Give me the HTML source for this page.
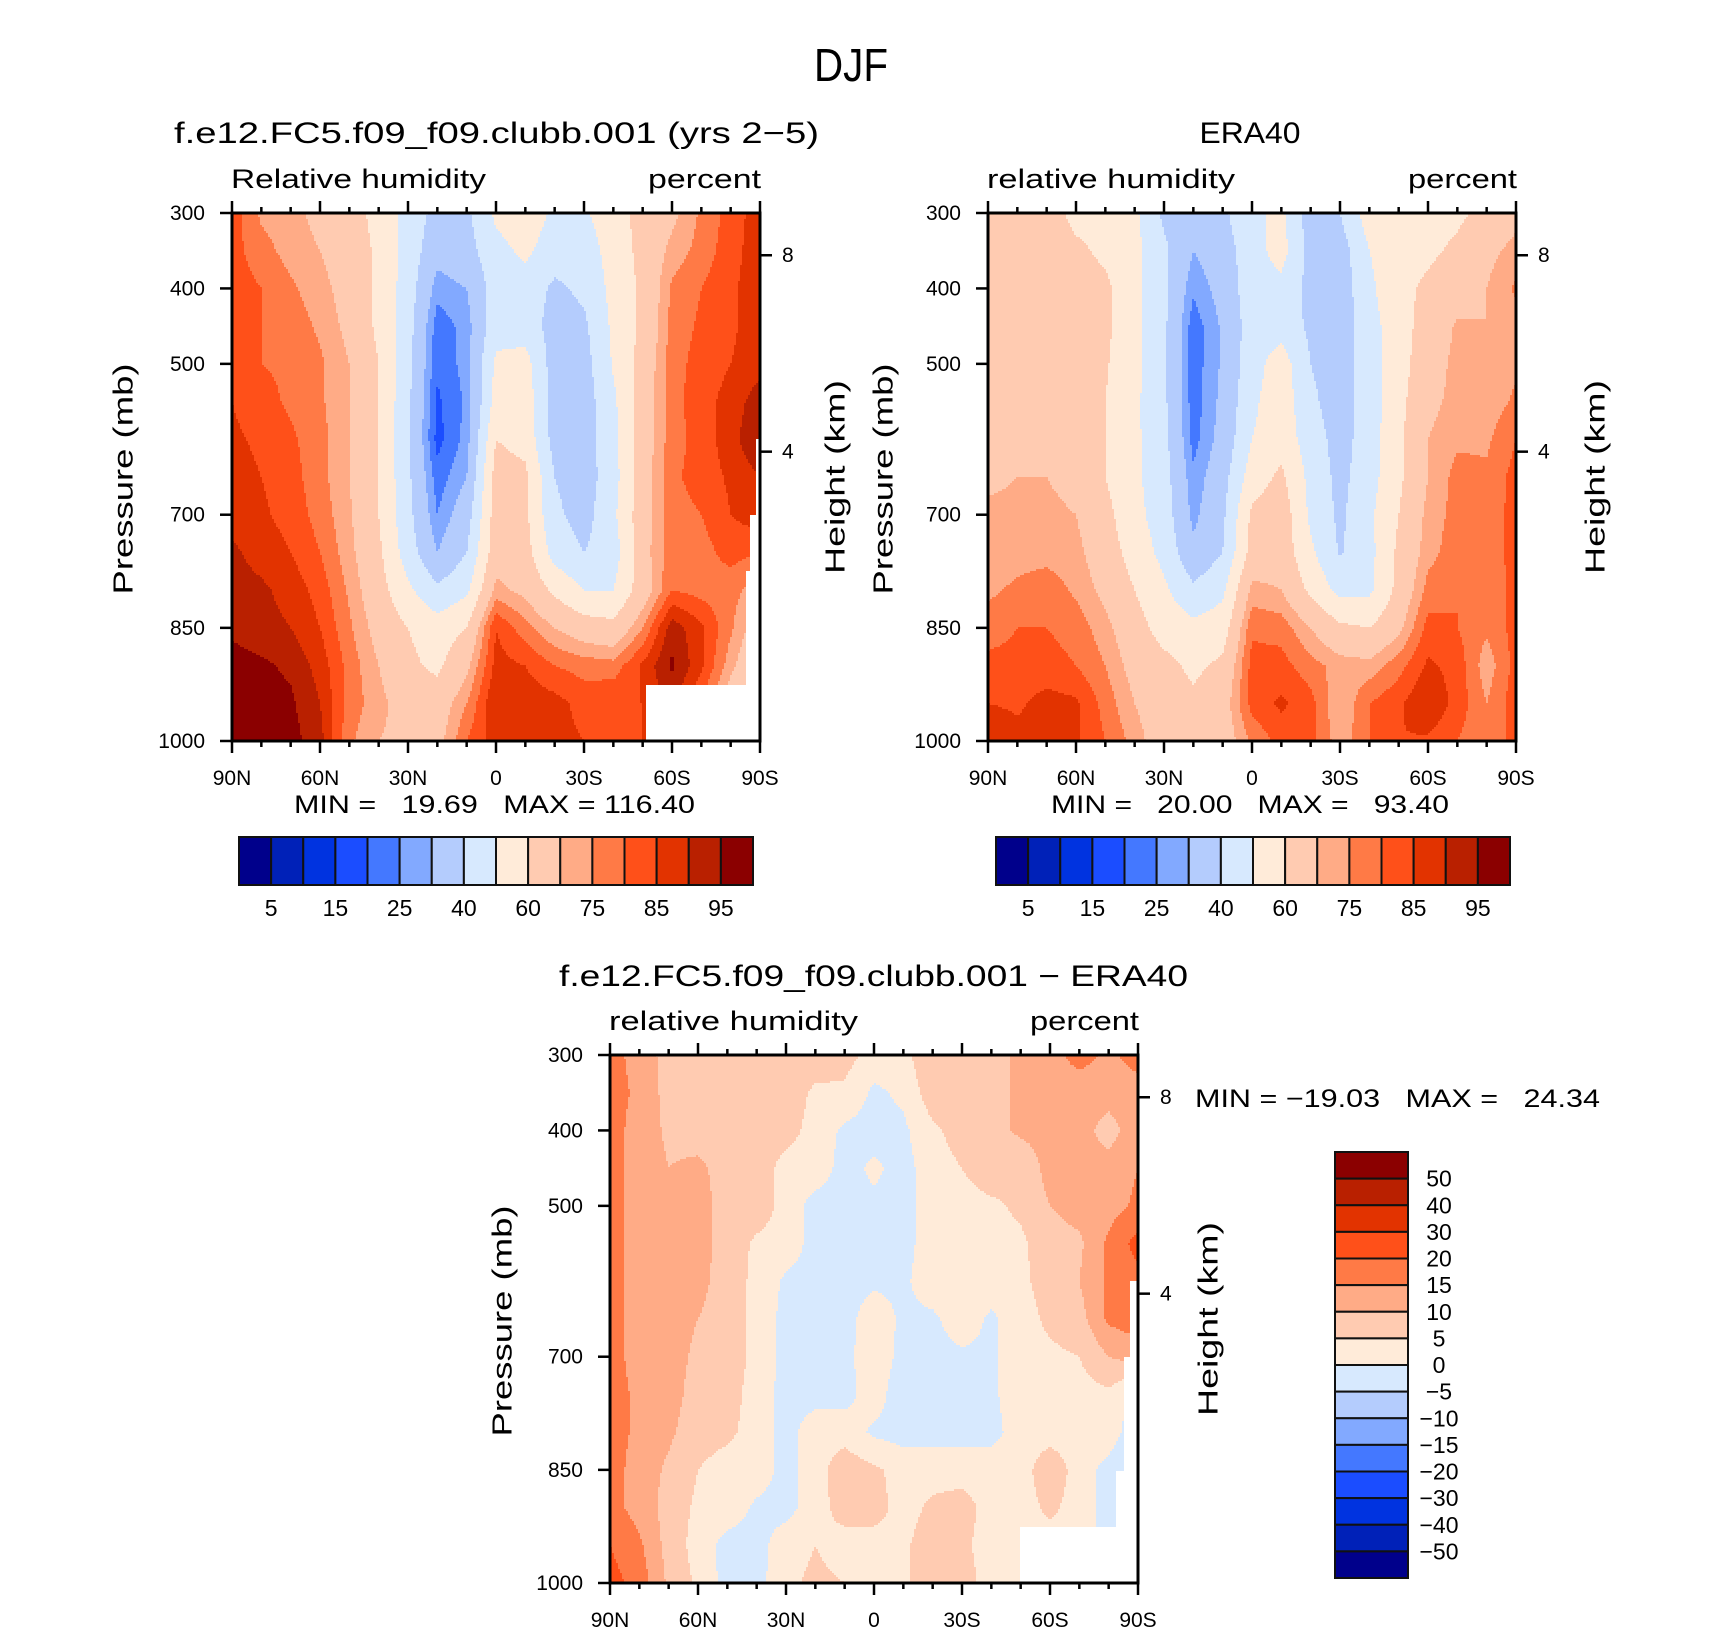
<!DOCTYPE html>
<html><head><meta charset="utf-8"><title>DJF Relative Humidity</title>
<style>
html,body{margin:0;padding:0;background:#fff;}
svg{display:block;font-family:"Liberation Sans",sans-serif;}
svg text{white-space:pre;}
</style></head>
<body>
<svg id="fig" xmlns="http://www.w3.org/2000/svg" width="1710" height="1631" viewBox="0 0 1710 1631">
<rect x="0" y="0" width="1710" height="1631" fill="#fff"/>
</svg>
<script>
// ---------- data ----------
const lats = [90,80,70,60,50,40,30,20,10,0,-10,-20,-30,-40,-50,-60,-70,-80,-90];
const levels = [300,350,400,450,500,550,600,650,700,750,800,850,900,950,1000];

const modelRH = [
[83,74,72,68,64,57,46,37,38,52,56,48,49,55,64,68,76,82,88],
[82,77,73,70,66,58,46,33,36,47,52,45,45,54,63,72,77,83,88],
[83,80,76,72,67,58,45,27,30,45,46,38,42,53,62,76,80,84,88],
[83,80,78,74,68,58,44,22,27,46,45,36,38,52,62,77,81,84,88],
[82,80,79,76,70,60,43,21,27,52,54,35,36,51,64,78,82,85,88],
[85,82,79,76,70,60,42,19,26,54,56,35,35,48,65,78,83,87,93],
[86,84,81,77,70,60,42,18,27,60,57,36,35,47,65,78,82,88,95],
[87,85,82,77,70,60,42,22,30,64,62,40,35,46,66,79,82,86,90],
[88,86,83,78,71,60,43,25,35,65,62,42,36,48,66,78,80,85,88],
[91,88,85,80,72,62,45,30,40,66,64,46,40,45,67,78,78,82,80],
[92,91,88,83,74,64,52,42,48,72,68,58,50,50,65,80,78,77,72],
[94,92,90,85,76,67,60,55,60,85,77,70,65,63,75,93,86,76,65],
[97,96,94,88,78,70,62,58,68,87,85,80,78,77,86,96,86,72,60],
[98,97,96,90,78,72,66,65,75,90,88,87,83,85,85,92,80,65,60],
[98,98,97,92,76,70,68,67,80,88,87,87,85,84,85,90,80,65,60]
];

const eraRH = [
[65,65,65,57,56,52,38,33,38,48,52,35,40,55,57,55,58,63,68],
[65,65,65,62,58,53,42,30,35,46,54,36,35,50,56,58,62,68,72],
[65,65,65,65,62,53,42,26,33,46,47,37,34,48,57,62,66,70,76],
[65,65,65,65,62,53,42,22,31,45,46,38,34,46,56,64,71,70,72],
[65,65,65,65,61,53,42,22,31,46,55,40,35,46,56,66,72,72,74],
[65,65,65,65,60,52,42,22,32,48,56,42,35,45,57,68,72,72,76],
[65,65,67,65,60,52,43,23,33,50,56,45,36,45,58,70,74,74,80],
[68,70,70,67,60,52,44,26,36,55,62,47,37,46,58,70,77,76,82],
[72,72,72,70,63,53,45,28,38,62,66,48,38,48,60,72,77,77,82],
[72,73,73,72,65,56,47,32,40,64,66,52,39,47,62,73,78,77,82],
[74,76,78,74,68,60,52,42,48,72,70,58,47,48,63,77,80,76,82],
[77,80,80,78,72,64,56,53,55,79,78,70,62,60,68,82,80,76,82],
[82,82,82,80,75,67,63,58,62,82,82,77,73,72,78,86,83,72,82],
[85,84,87,86,78,70,64,62,66,82,86,82,70,80,84,90,83,75,83],
[90,87,87,86,80,73,65,63,65,76,82,82,72,80,85,84,80,76,82]
];

const diffRH = [
[17,13,8,8,8,8,8,8,7,3,3,10,9,8,11,13,17,14,17],
[17,14,8,8,8,8,8,4,4,-1,1,8,8,8,11,13,12,12,13],
[17,13,9,8,8,8,7,3,-1,-2,-1,4,7,8,11,12,12,8,13],
[17,13,10,11,8,8,3,3,-2,1,-2,3,5,8,6,12,12,12,15],
[17,13,12,12,8,8,3,-2,-2,-1,-2,3,3,4,6,10,12,13,16],
[17,13,12,12,8,4,3,-2,-2,-1,-2,3,3,3,4,8,9,16,22],
[17,13,12,12,7,4,-1,-2,-2,-1,-1,3,3,3,4,7,10,16,18],
[17,13,12,10,7,4,-2,-2,-2,3,-1,-1,3,-1,3,6,8,16,18],
[17,13,12,9,7,4,-2,-2,-2,4,-2,-2,-1,-1,3,4,5,10,12],
[17,14,12,8,7,3,-2,-2,-2,3,-4,-2,-2,-1,3,3,3,4,-2],
[17,14,11,7,6,3,-2,3,3,-1,-2,-2,-2,-2,3,3,3,3,-4],
[17,13,9,5,3,3,-2,3,8,6,3,3,3,3,3,8,3,-2,-6],
[17,13,8,4,3,-1,-2,3,7,7,3,6,7,3,3,6,3,-2,-4],
[20,16,8,3,-2,-2,3,5,3,3,4,8,6,3,3,3,3,-2,-2],
[22,18,9,4,-2,-2,4,6,5,3,4,9,7,3,3,3,3,-2,-2]
];

const rhBounds = [5,10,15,20,25,30,40,50,60,70,75,80,85,90,95];
const diffBounds = [-50,-40,-30,-20,-15,-10,-5,0,5,10,15,20,30,40,50];
const rhTickLabels = ['5','15','25','40','60','75','85','95'];
const diffTickLabels = ['50','40','30','20','15','10','5','0','\u22125','\u221210','\u221215','\u221220','\u221230','\u221240','\u221250'];
const latTickLabels = ['90N','60N','30N','0','30S','60S','90S'];
const pressureTicks = [300,400,500,700,850,1000];
const heightTicks = [8,4];
const modelMissLat = [-51.4,-88.3,-86.5,-85.5];
const modelMissP = [926,600,700,774];
const diffMissLat = [-49.9,-87.6,-85.1,-82.7];
const diffMissP = [927,600,700,851];

const palette = ['#00008b','#0021b8','#0033e0','#1b4dff','#4478ff','#82a9ff','#b4ccfd','#d7e9fe',
                 '#ffebd9','#ffcbb1','#ffab86','#ff7a46','#ff5019','#e23300','#b92000','#8b0000'];

// ---------- helpers ----------
const NS = 'http://www.w3.org/2000/svg';
const svg = document.getElementById('fig');
function mk(tag, attrs, parent){
  const e = document.createElementNS(NS, tag);
  for (const k in attrs) e.setAttribute(k, attrs[k]);
  (parent || svg).appendChild(e);
  return e;
}
function txt(parent, x, y, s, size, anchor, name, len, rot){
  const t = mk('text', {x:x, y:y, 'font-size':size, 'text-anchor':anchor || 'start', fill:'#000'}, parent);
  if (len) { t.setAttribute('textLength', len); t.setAttribute('lengthAdjust', 'spacingAndGlyphs'); }
  if (rot) { t.setAttribute('transform', 'rotate(-90 ' + x + ' ' + y + ')'); t.setAttribute('dominant-baseline', 'central'); }
  t.textContent = s;
  
  
  return t;
}
function kmToP(h){ return 1013.25 * Math.pow(1 - 2.25577e-5 * h * 1000, 5.25588); }

function classify(v, bounds){ let c = 0; for (let k = 0; k < bounds.length; k++) if (v >= bounds[k]) c = k + 1; return c; }
function sample(data, lat, p){
  let fi = (90 - lat) / 10; fi = Math.max(0, Math.min(18, fi));
  let fj = (p - 300) / 50; fj = Math.max(0, Math.min(14, fj));
  const i0 = Math.min(17, Math.floor(fi)), j0 = Math.min(13, Math.floor(fj));
  const t = fi - i0, u = fj - j0;
  const a = data[j0][i0], b = data[j0][i0+1], c = data[j0+1][i0], d = data[j0+1][i0+1];
  return a*(1-t)*(1-u) + b*t*(1-u) + c*(1-t)*u + d*t*u;
}

function drawPlot(cfg){
  const g = mk('g', {});
  
  
  const L = cfg.x, T = cfg.y, W = 528, H = 528;
  const xOf = lat => L + (90 - lat) / 180 * W;
  const yOf = p => T + (p - 300) / 700 * H;
  const fg = mk('g', {'shape-rendering':'crispEdges'}, g);
  
  
  const step = 2;
  for (let py = 0; py < H; py += step){
    const p = 300 + (py + step/2) / H * 700;
    let runStart = 0, runCls = null;
    for (let px = 0; px <= W; px += step){
      let cls;
      if (px >= W) cls = 'end';
      else {
        const lat = 90 - (px + step/2) / W * 180;
        let miss = false;
        for (let m = 0; m < cfg.missLat.length; m++) if (lat <= cfg.missLat[m] && p >= cfg.missP[m]) miss = true;
        cls = miss ? -1 : classify(sample(cfg.data, lat, p), cfg.bounds);
      }
      if (cls !== runCls){
        if (runCls !== null && runCls >= 0){
          const r = mk('rect', {x:L+runStart, y:T+py, width:px-runStart, height:step, fill:palette[runCls]}, fg);
          
          
        }
        runStart = px; runCls = cls;
      }
    }
  }
  const tk = mk('g', {stroke:'#000', 'stroke-width':2.5, fill:'none'}, g);
  
  
  for (let k = 0; k < lats.length; k++){
    const x = xOf(lats[k]); const len = (k % 3 === 0) ? 12 : 6;
    mk('line', {x1:x, y1:T, x2:x, y2:T-len}, tk);
    mk('line', {x1:x, y1:T+H, x2:x, y2:T+H+len}, tk);
  }
  for (let k = 0; k < pressureTicks.length; k++){
    const y = yOf(pressureTicks[k]);
    mk('line', {x1:L, y1:y, x2:L-12, y2:y}, tk);
    txt(g, L-27, y+7, String(pressureTicks[k]), 21, 'end', 'pressure-tick-label');
  }
  for (let k = 0; k < heightTicks.length; k++){
    const y = yOf(kmToP(heightTicks[k]));
    mk('line', {x1:L+W, y1:y, x2:L+W+12, y2:y}, tk);
    txt(g, L+W+22, y+7, String(heightTicks[k]), 21, 'start', 'height-tick-label');
  }
  for (let k = 0; k < latTickLabels.length; k++){
    txt(g, xOf(90 - 30*k), T+H+44, latTickLabels[k], 21, 'middle', 'latitude-tick-label');
  }
  const frame = mk('rect', {x:L, y:T, width:W, height:H, fill:'none', stroke:'#000', 'stroke-width':3}, g);
  
  
  txt(g, L-1, T-25, cfg.varName, 27, 'start', 'variable-label', cfg.varLen);
  txt(g, L+W+1, T-25, 'percent', 27, 'end', 'units-label', cfg.pctLen);
  txt(g, cfg.presX, T+266, 'Pressure (mb)', 28, 'middle', 'y-axis-title', 231, true);
  txt(g, cfg.hgtX, T+264, 'Height (km)', 28, 'middle', 'right-axis-title', 194, true);
  return g;
}

function hColorbar(x0, y0, w, h, name){
  const g = mk('g', {});
  
  
  const bw = w / 16;
  for (let k = 0; k < 16; k++){
    const r = mk('rect', {x:x0+k*bw, y:y0, width:bw, height:h, fill:palette[k], stroke:'#111', 'stroke-width':2}, g);
    
    
  }
  for (let k = 0; k < rhTickLabels.length; k++){
    txt(g, x0 + (2*k+1)*bw, y0+h+31, rhTickLabels[k], 23, 'middle', 'colorbar-label');
  }
}

// ---------- figure ----------
txt(svg, 851, 81, 'DJF', 46, 'middle', 'figure-title', 74);
txt(svg, 174, 143, 'f.e12.FC5.f09_f09.clubb.001 (yrs 2\u22125)', 30, 'start', 'model-panel-title', 645);
txt(svg, 1250, 143, 'ERA40', 30, 'middle', 'era40-panel-title', 101);
txt(svg, 559, 986, 'f.e12.FC5.f09_f09.clubb.001 \u2212 ERA40', 30, 'start', 'difference-panel-title', 629);

drawPlot({name:'model-panel', x:232, y:213, data:modelRH, bounds:rhBounds, missLat:modelMissLat, missP:modelMissP,
  varName:'Relative humidity', varLen:255, pctLen:113, presX:123, hgtX:835});
drawPlot({name:'era40-panel', x:988, y:213, data:eraRH, bounds:rhBounds, missLat:[], missP:[],
  varName:'relative humidity', varLen:248, pctLen:109, presX:883, hgtX:1595});
drawPlot({name:'difference-panel', x:610, y:1055, data:diffRH, bounds:diffBounds, missLat:diffMissLat, missP:diffMissP,
  varName:'relative humidity', varLen:249, pctLen:109, presX:502, hgtX:1208});

txt(svg, 294, 813, 'MIN =   19.69   MAX = 116.40', 25, 'start', 'model-min-max', 401);
txt(svg, 1051, 813, 'MIN =   20.00   MAX =   93.40', 25, 'start', 'era40-min-max', 398);
txt(svg, 1195, 1107, 'MIN = \u221219.03   MAX =   24.34', 25, 'start', 'difference-min-max', 405);

hColorbar(239, 837, 514, 48, 'model-colorbar');
hColorbar(996, 837, 514, 48, 'era40-colorbar');

(function(){
  const g = mk('g', {});
  
  
  const x0 = 1335, y0 = 1152, w = 73, h = 426, bh = h / 16;
  for (let k = 0; k < 16; k++){
    const r = mk('rect', {x:x0, y:y0+k*bh, width:w, height:bh, fill:palette[15-k], stroke:'#111', 'stroke-width':2}, g);
    
    
  }
  for (let k = 0; k < diffTickLabels.length; k++){
    txt(g, 1439, y0 + (k+1)*bh + 8, diffTickLabels[k], 23, 'middle', 'colorbar-label');
  }
})();
</script>
</body></html>
